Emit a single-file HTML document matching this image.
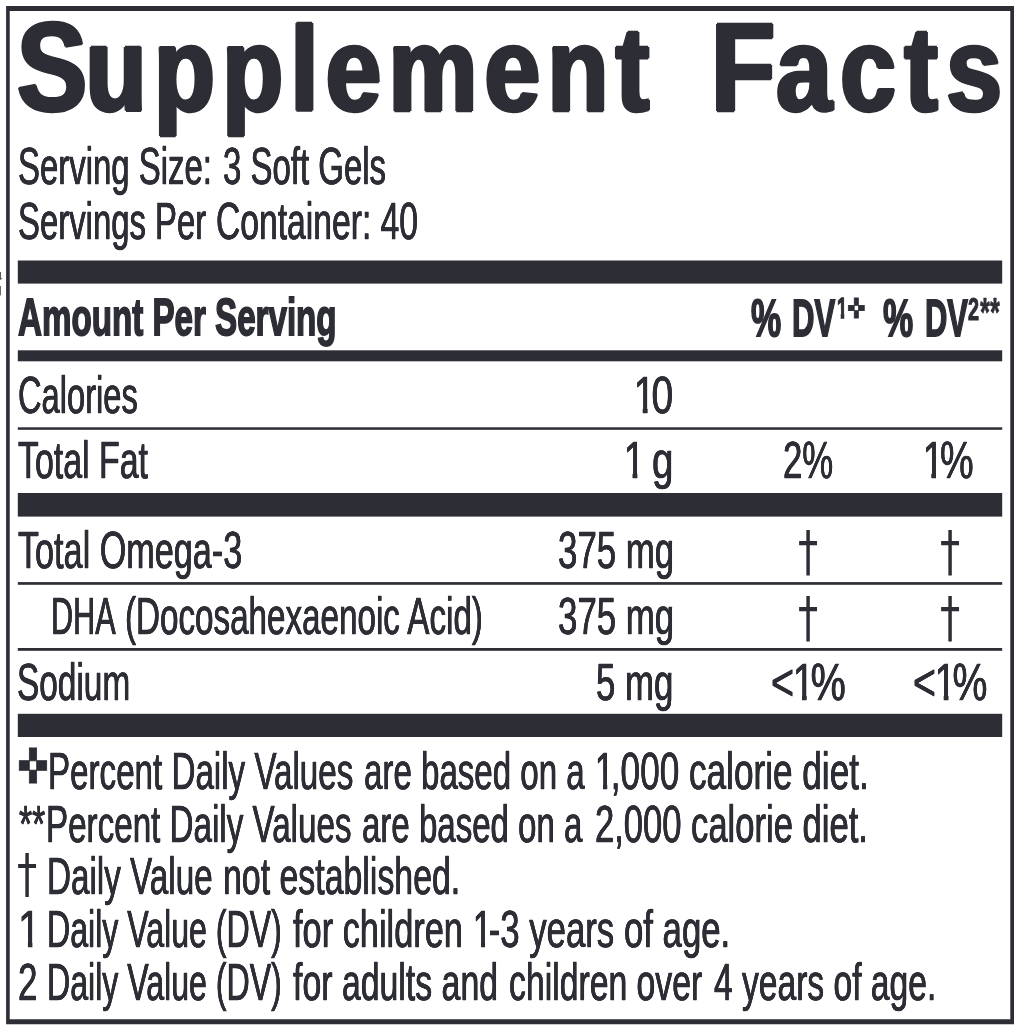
<!DOCTYPE html>
<html lang="en">
<head>
<meta charset="utf-8">
<title>Supplement Facts</title>
<style>
html,body{margin:0;padding:0;background:#fff;}
body{width:1028px;height:1028px;position:relative;overflow:hidden;font-family:"Liberation Sans", sans-serif;color:#2d2e35;}
.t{position:absolute;white-space:pre;line-height:1;transform-origin:0 0;margin:0;font-weight:400;-webkit-text-stroke:0.5px #2d2e35;text-shadow:0.35px 0 0 #2d2e35,-0.35px 0 0 #2d2e35;}
.b{font-weight:700;-webkit-text-stroke:1.8px #2d2e35;text-shadow:none;}
.ttl{-webkit-text-stroke:2.5px #2d2e35;font-kerning:none;text-shadow:2.5px 0 0 #2d2e35,-2.5px 0 0 #2d2e35;}
.ttl::first-letter{font-size:127px;}
.w1::first-letter{letter-spacing:-1.7px;}
.w2::first-letter{letter-spacing:1.4px;}
svg{position:absolute;overflow:visible;}
.sym{font-family:"DejaVu Sans",sans-serif;-webkit-text-stroke-width:0;text-shadow:none;}
.one{display:inline-block;clip-path:polygon(0 0,0.353em 0,0.353em 1.3em,0.237em 1.3em,0.237em 0.55em,0 0.55em);margin:0 -0.1em 0 -0.035em;}
</style>
</head>
<body>
<svg class="frame" width="1028" height="1028" viewBox="0 0 1028 1028" style="left:0;top:0" fill="#2d2e35"><path fill-rule="evenodd" d="M6.1 6.1H1014.0V1024.2H6.1Z M9.7 10.899999999999999V1019.2H1010.3V10.899999999999999Z"/><rect x="17.8" y="260.5" width="984.4" height="23.10"/><rect x="17.8" y="350.3" width="984.4" height="11.00"/><rect x="17.8" y="427.3" width="984.4" height="2.50"/><rect x="17.8" y="493.0" width="984.4" height="23.60"/><rect x="17.8" y="582.1" width="984.4" height="2.70"/><rect x="17.8" y="648.0" width="984.4" height="2.80"/><rect x="17.8" y="713.8" width="984.4" height="23.20"/><rect x="0" y="272" width="1" height="7.6" fill="#5a5b61"/><path d="M0 277.5L2.6 278.6L0 279.8Z" fill="#5a5b61"/><rect x="0" y="286" width="1" height="9.4" fill="#6a6b70"/></svg>
<div class="t" style="left:17.65px;top:140.00px;font-size:52px;transform:scaleX(0.6333)">Serving Size:</div>
<div class="t" style="left:222.69px;top:140.00px;font-size:52px;transform:scaleX(0.6339)">3 Soft Gels</div>
<div class="t" style="left:17.61px;top:195.00px;font-size:52px;transform:scaleX(0.6323)">Servings Per</div>
<div class="t" style="left:215.99px;top:195.00px;font-size:52px;transform:scaleX(0.6470)">Container: 40</div>
<div class="t b" style="left:17.89px;top:291.00px;font-size:52px;transform:scaleX(0.6374)">Amount Per Serving</div>
<div class="t b" style="left:751.34px;top:292.00px;font-size:52px;transform:scaleX(0.6529)">%</div>
<div class="t b" style="left:792.20px;top:292.00px;font-size:52px;transform:scaleX(0.5972)">DV</div>
<div class="t b" style="left:837.27px;top:293.00px;font-size:29.5px;transform:scaleX(0.6281);-webkit-text-stroke-width:1.4px;clip-path:polygon(0 0,11.93px 0,11.93px 28.25px,5.89px 28.25px,5.89px 16.40px,0 16.40px)">1</div>
<div class="t b" style="left:883.18px;top:292.00px;font-size:52px;transform:scaleX(0.6529)">%</div>
<div class="t b" style="left:924.96px;top:292.00px;font-size:52px;transform:scaleX(0.5943)">DV</div>
<div class="t b" style="left:968.07px;top:294.00px;font-size:30.5px;transform:scaleX(0.6511);-webkit-text-stroke-width:1.0px">2</div>
<div class="t b" style="left:979.96px;top:292.00px;font-size:40px;transform:scaleX(0.6347);-webkit-text-stroke-width:0.6px">**</div>
<div class="t" style="left:18.39px;top:369.00px;font-size:52px;transform:scaleX(0.6283)">Calories</div>
<div class="t" style="left:635.00px;top:369.00px;font-size:52px;transform:scaleX(0.7500)"><span class="one">1</span>0</div>
<div class="t" style="left:17.83px;top:434.00px;font-size:52px;transform:scaleX(0.6518)">Total Fat</div>
<div class="t" style="left:625.48px;top:434.00px;font-size:52px;transform:scaleX(0.7416)"><span class="one">1</span> g</div>
<div class="t" style="left:782.73px;top:434.00px;font-size:52px;transform:scaleX(0.6694)">2%</div>
<div class="t" style="left:924.30px;top:434.00px;font-size:52px;transform:scaleX(0.7266)"><span class="one">1</span>%</div>
<div class="t" style="left:17.81px;top:524.00px;font-size:52px;transform:scaleX(0.6576)">Total Omega-3</div>
<div class="t" style="left:557.99px;top:524.00px;font-size:52px;transform:scaleX(0.6700)">375 mg</div>
<div class="t" style="left:50.85px;top:590.00px;font-size:52px;transform:scaleX(0.5887)">DHA</div>
<div class="t" style="left:124.61px;top:590.00px;font-size:52px;transform:scaleX(0.6383)">(Docosahexaenoic Acid)</div>
<div class="t" style="left:557.99px;top:590.00px;font-size:52px;transform:scaleX(0.6700)">375 mg</div>
<div class="t" style="left:17.40px;top:656.00px;font-size:52px;transform:scaleX(0.6420)">Sodium</div>
<div class="t" style="left:596.04px;top:656.00px;font-size:52px;transform:scaleX(0.6689)">5 mg</div>
<div class="t" style="left:771.16px;top:656.00px;font-size:52px;transform:scaleX(0.7579)">&lt;<span class="one">1</span>%</div>
<div class="t" style="left:912.67px;top:656.00px;font-size:52px;transform:scaleX(0.7553)">&lt;<span class="one">1</span>%</div>
<div class="t" style="left:48.07px;top:745.00px;font-size:52px;transform:scaleX(0.6376)">Percent Daily Values</div>
<div class="t" style="left:363.80px;top:745.00px;font-size:52px;transform:scaleX(0.6362)">are based on a</div>
<div class="t" style="left:596.30px;top:745.00px;font-size:52px;transform:scaleX(0.6759)"><span class="one">1</span>,000 calorie diet.</div>
<div class="t" style="left:19.45px;top:798.00px;font-size:52px;transform:scaleX(0.6483)">**</div>
<div class="t" style="left:46.09px;top:798.00px;font-size:52px;transform:scaleX(0.6380)">Percent Daily Values</div>
<div class="t" style="left:362.01px;top:798.00px;font-size:52px;transform:scaleX(0.6353)">are based on a</div>
<div class="t" style="left:594.54px;top:798.00px;font-size:52px;transform:scaleX(0.6647)">2,000 calorie diet.</div>
<div class="t" style="left:46.84px;top:850.00px;font-size:52px;transform:scaleX(0.6391)">Daily Value</div>
<div class="t" style="left:222.51px;top:850.00px;font-size:52px;transform:scaleX(0.6513)">not established.</div>
<div class="t" style="left:17.54px;top:903.00px;font-size:52px;transform:scaleX(0.7902);clip-path:polygon(0 0,18.22px 0,18.22px 46.55px,12.53px 46.55px,12.53px 28.40px,0 28.40px)">1</div>
<div class="t" style="left:46.93px;top:903.00px;font-size:52px;transform:scaleX(0.6171)">Daily Value (DV)</div>
<div class="t" style="left:293.45px;top:903.00px;font-size:52px;transform:scaleX(0.6606)">for children</div>
<div class="t" style="left:473.92px;top:903.00px;font-size:52px;transform:scaleX(0.6686)"><span class="one">1</span>-3 years of age.</div>
<div class="t" style="left:17.73px;top:956.00px;font-size:52px;transform:scaleX(0.6740)">2</div>
<div class="t" style="left:46.93px;top:956.00px;font-size:52px;transform:scaleX(0.6171)">Daily Value (DV)</div>
<div class="t" style="left:293.08px;top:956.00px;font-size:52px;transform:scaleX(0.6507)">for adults and</div>
<div class="t" style="left:508.88px;top:956.00px;font-size:52px;transform:scaleX(0.6491)">children over</div>
<div class="t" style="left:714.17px;top:956.00px;font-size:52px;transform:scaleX(0.6460)">4 years of age.</div>
<div class="t b ttl w1" style="left:17.25px;top:3.90px;font-size:120.5px;letter-spacing:9.0px;transform:scaleX(0.827)">Supplement</div>
<div class="t b ttl w2" style="left:711.1px;top:3.90px;font-size:120.5px;letter-spacing:10.5px;transform:scaleX(0.827)">Facts</div>
<div class="t sym" style="left:797.57px;top:522.97px;font-size:53px;transform:scale(0.7606,1.0363)">†</div>
<div class="t sym" style="left:940.12px;top:522.97px;font-size:53px;transform:scale(0.7606,1.0363)">†</div>
<div class="t sym" style="left:797.57px;top:588.72px;font-size:53px;transform:scale(0.7606,1.0363)">†</div>
<div class="t sym" style="left:940.12px;top:588.72px;font-size:53px;transform:scale(0.7606,1.0363)">†</div>
<div class="t sym" style="left:17.38px;top:846.06px;font-size:53px;transform:scale(0.7606,1.0191)">†</div>
<div class="t sym" style="left:847.16px;top:294.98px;font-size:53px;transform:scale(0.4190,0.5182);-webkit-text-stroke-width:1.6px">✜</div>
<div class="t sym" style="left:16.98px;top:742.27px;font-size:53px;transform:scale(0.7122,0.9062);-webkit-text-stroke-width:1px">✜</div>
</body>
</html>
